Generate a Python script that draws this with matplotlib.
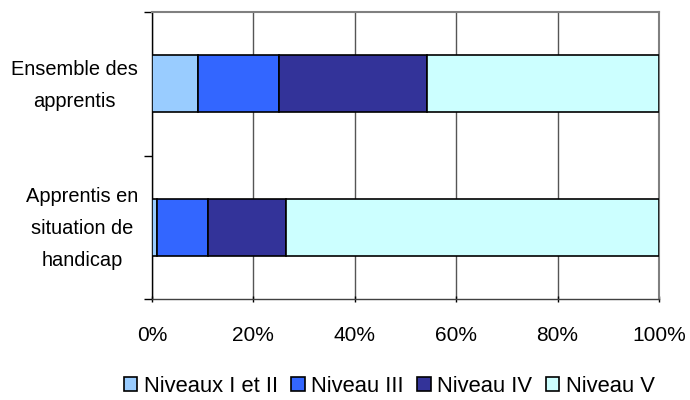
import matplotlib
matplotlib.use("Agg")
import matplotlib.pyplot as plt
from matplotlib.ticker import FixedLocator, PercentFormatter
from matplotlib.transforms import ScaledTranslation

plt.rcParams['font.family'] = ['Liberation Sans', 'DejaVu Sans']

categories = ["Apprentis en\nsituation de\nhandicap", "Ensemble des\napprentis"]
series_names = ["Niveaux I et II", "Niveau III", "Niveau IV", "Niveau V"]
niveaux_1_2 = [1.0, 9.0]
niveau_3 = [10.0, 16.0]
niveau_4 = [15.5, 29.3]
niveau_5 = [73.5, 45.7]
colors = ["#99CCFF", "#3366FF", "#333399", "#CCFFFF"]
x_ticks = [0, 20, 40, 60, 80, 100]

fig = plt.figure(figsize=(6.9, 4.0), dpi=100)
ax = fig.add_axes([0.2203, 0.2525, 0.7347, 0.7175])

ypos = list(range(len(categories)))
left = [0.0] * len(categories)
for name, vals, col in zip(series_names, [niveaux_1_2, niveau_3, niveau_4, niveau_5], colors):
    ax.barh(ypos, vals, left=left, height=0.4, color=col, edgecolor="black",
            linewidth=1.2, label=name, zorder=3)
    left = [l + v for l, v in zip(left, vals)]

ax.set_xlim(0, 100)
ax.set_ylim(-0.5, len(categories) - 0.5)
ax.xaxis.set_major_locator(FixedLocator(x_ticks))
ax.xaxis.set_major_formatter(PercentFormatter(decimals=0))
ax.grid(axis="x", color="#555555", linewidth=1.0, zorder=0)

ax.set_yticks(ypos)
ax.set_yticklabels(categories, multialignment="center", linespacing=1.85)
ax.set_yticks([i - 0.5 for i in range(len(categories) + 1)], minor=True)
ax.tick_params(axis="y", which="major", length=0, pad=10, labelsize=14.4)
ax.tick_params(axis="y", which="minor", length=6, width=1, color="black", direction="out")
ax.tick_params(axis="x", which="major", length=5, width=1, direction="inout", pad=17, labelsize=15)

# nudge the multi-line category labels so they sit centred on their bars
shift = ScaledTranslation(0, 5 / 72, fig.dpi_scale_trans)
for lbl in ax.get_yticklabels():
    lbl.set_transform(lbl.get_transform() + shift)

ax.spines["left"].set_color("black")
ax.spines["left"].set_linewidth(1.0)
ax.spines["bottom"].set_color("#404040")
ax.spines["bottom"].set_linewidth(1.0)
for s in ["top", "right"]:
    ax.spines[s].set_color("#808080")
    ax.spines[s].set_linewidth(1.5)

fig.legend(loc="lower center", bbox_to_anchor=(0.564, 0.008), ncol=4, frameon=False,
           fontsize=15.8, handlelength=0.62, handleheight=0.62, handletextpad=0.3,
           columnspacing=0.6, borderaxespad=0.0, borderpad=0.0)

fig.savefig("out.png", dpi=100)
